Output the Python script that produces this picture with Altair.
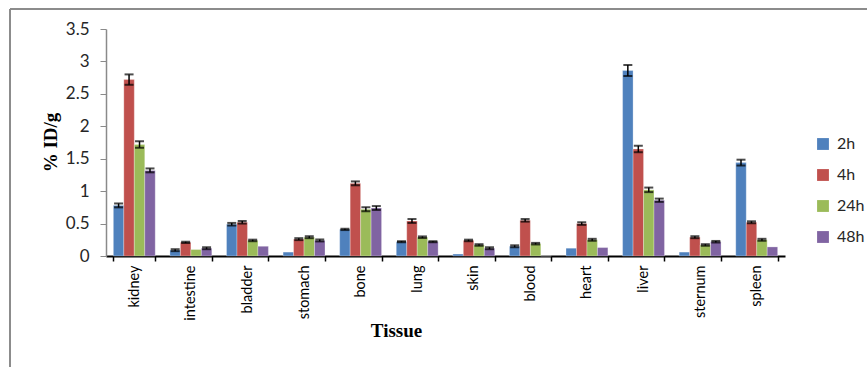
import altair as alt
import pandas as pd

# Tissue biodistribution (% ID/g) at four time points, mean and error
tissues = ["kidney", "intestine", "bladder", "stomach", "bone", "lung",
           "skin", "blood", "heart", "liver", "sternum", "spleen"]
times = ["2h", "4h", "24h", "48h"]

vals_2h = [0.78, 0.09, 0.49, 0.06, 0.41, 0.22, 0.03, 0.15, 0.12, 2.86, 0.06, 1.44]
vals_4h = [2.72, 0.21, 0.52, 0.26, 1.12, 0.54, 0.24, 0.55, 0.50, 1.65, 0.29, 0.52]
vals_24h = [1.72, 0.10, 0.24, 0.29, 0.72, 0.29, 0.17, 0.19, 0.25, 1.02, 0.17, 0.25]
vals_48h = [1.32, 0.12, 0.15, 0.24, 0.74, 0.22, 0.12, 0.00, 0.13, 0.86, 0.22, 0.14]

err_2h = [0.03, 0.015, 0.02, 0.0, 0.01, 0.008, 0.0, 0.015, 0.0, 0.085, 0.0, 0.045]
err_4h = [0.08, 0.01, 0.02, 0.015, 0.03, 0.03, 0.012, 0.02, 0.02, 0.05, 0.015, 0.015]
err_24h = [0.05, 0.0, 0.012, 0.015, 0.03, 0.012, 0.012, 0.012, 0.015, 0.035, 0.012, 0.015]
err_48h = [0.03, 0.015, 0.0, 0.015, 0.03, 0.008, 0.015, 0.0, 0.0, 0.025, 0.012, 0.0]

y_ticks = [0, 0.5, 1, 1.5, 2, 2.5, 3, 3.5]
colors = ["#4F81BD", "#C0504D", "#9BBB59", "#8064A2"]

rows = []
for t, vs, es in zip(times, [vals_2h, vals_4h, vals_24h, vals_48h],
                     [err_2h, err_4h, err_24h, err_48h]):
    for tissue, v, e in zip(tissues, vs, es):
        rows.append({"tissue": tissue, "time": t, "value": v, "err": e,
                     "lo": v - e, "hi": v + e})
df = pd.DataFrame(rows)

W, H = 679, 227
PAD_L, PAD_T = 106, 29

x_scale = alt.Scale(paddingInner=0.26, paddingOuter=0.13)
x_axis = alt.Axis(title="Tissue", labelAngle=-90, labelFontSize=14.5,
                  labelFont="Lato", labelColor="#000000",
                  labelPadding=4, tickBand="extent", ticks=True,
                  tickSize=5, tickColor="#000000", tickWidth=1.5,
                  domainColor="#000000", domainWidth=2,
                  titleFont="Liberation Serif", titleFontSize=19,
                  titleFontWeight="bold", titleColor="#000000",
                  titleX=290, titleY=80, titleBaseline="alphabetic",
                  titleAlign="center")
y_scale = alt.Scale(domain=[0, 3.5], nice=False)
y_axis = alt.Axis(title="% ID/g", values=y_ticks, format="~g", grid=False,
                  labelFontSize=17, labelFont="Lato", labelColor="#262626",
                  labelPadding=11, tickSize=6, tickColor="#8a8a8a",
                  domainColor="#8a8a8a", domainWidth=1.5,
                  titleFont="Liberation Serif", titleFontSize=19,
                  titleFontWeight="bold", titleColor="#000000",
                  titleX=-56, titleY=113, titleAngle=270,
                  titleAlign="center", titleBaseline="middle")
xo_scale = alt.Scale(paddingInner=0, paddingOuter=0)


def x_enc():
    return alt.X("tissue:N", sort=tissues, scale=x_scale, axis=x_axis)


def xo_enc():
    return alt.XOffset("time:N", sort=times, scale=xo_scale)


def y_enc(field):
    return alt.Y(f"{field}:Q", scale=y_scale, axis=y_axis)


bars = alt.Chart(df).mark_bar(stroke="#ffffff", strokeOpacity=0.35, strokeWidth=0.8).encode(
    x=x_enc(),
    xOffset=xo_enc(),
    y=y_enc("value"),
    color=alt.Color("time:N", sort=times,
                    scale=alt.Scale(domain=times, range=colors),
                    legend=alt.Legend(title=None, orient="none", legendX=709,
                                      legendY=107, symbolType="square",
                                      symbolSize=140, symbolStrokeWidth=0,
                                      labelFontSize=16, labelFont="Lato",
                                      labelColor="#262626", labelOffset=6,
                                      rowPadding=15)),
)

err_df = df[df["err"] > 0]

whisker = alt.Chart(err_df).mark_rule(color="#000000", strokeWidth=1.5).encode(
    x=x_enc(),
    xOffset=xo_enc(),
    y=y_enc("lo"),
    y2="hi:Q",
)

caps_hi = alt.Chart(err_df).mark_tick(color="#000000", thickness=2, size=9,
                                      orient="horizontal").encode(
    x=x_enc(),
    xOffset=xo_enc(),
    y=y_enc("hi"),
)
caps_lo = alt.Chart(err_df).mark_tick(color="#000000", thickness=2, size=9,
                                      orient="horizontal").encode(
    x=x_enc(),
    xOffset=xo_enc(),
    y=y_enc("lo"),
)

# outer frame (top and left edges of the figure box)
frame_df = pd.DataFrame({"k": [0]})
frame_top = alt.Chart(frame_df).mark_rule(color="#8c8c8c", strokeWidth=2).encode(
    x=alt.value(10 - PAD_L), x2=alt.value(867 - PAD_L), y=alt.value(9 - PAD_T))
frame_left = alt.Chart(frame_df).mark_rule(color="#8c8c8c", strokeWidth=2).encode(
    x=alt.value(10 - PAD_L), y=alt.value(9 - PAD_T), y2=alt.value(367 - PAD_T))

chart = alt.layer(bars, whisker, caps_hi, caps_lo, frame_top, frame_left).properties(
    width=W, height=H,
    autosize=alt.AutoSizeParams(type="none"),
    padding={"left": PAD_L, "top": PAD_T, "right": 867 - PAD_L - W, "bottom": 367 - PAD_T - H},
    background="#ffffff",
).configure_view(stroke=None)

chart.save("out.html", embed_options={"renderer": "svg", "actions": False})
